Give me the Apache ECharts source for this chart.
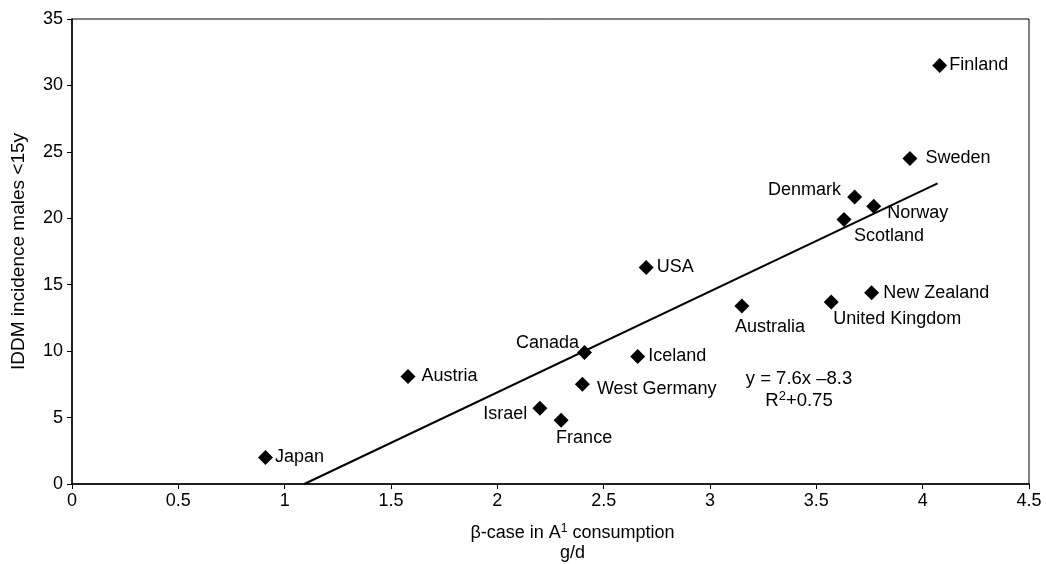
<!DOCTYPE html>
<html>
<head>
<meta charset="utf-8">
<title>IDDM incidence vs beta-casein A1 consumption</title>
<script src="https://cdn.jsdelivr.net/npm/echarts@6/dist/echarts.min.js"></script>
<style>
  html, body { margin: 0; padding: 0; background: #fff; }
  #chart { width: 1046px; height: 564px; }
</style>
</head>
<body>
<div id="chart"></div>
<script>
// countries
const countries = ['Japan', 'Austria', 'Canada', 'Israel', 'France', 'West Germany', 'Iceland', 'USA',
  'Australia', 'United Kingdom', 'New Zealand', 'Denmark', 'Norway', 'Scotland', 'Sweden', 'Finland']
const consumption = [0.91, 1.58, 2.41, 2.2, 2.3, 2.4, 2.66, 2.7, 3.15, 3.57, 3.76, 3.68, 3.77, 3.63, 3.94, 4.08]
const incidence = [2.0, 8.1, 9.9, 5.7, 4.8, 7.5, 9.6, 16.3, 13.4, 13.7, 14.4, 21.6, 20.9, 19.9, 24.5, 31.5]

// regression y = 7.6x - 8.3, drawn between these x values
const slope = 7.6
const intercept = -8.3
const fitRange = [-intercept / slope, 4.07]

const xTicks = [0, 0.5, 1, 1.5, 2, 2.5, 3, 3.5, 4, 4.5]
const yTicks = [0, 5, 10, 15, 20, 25, 30, 35]

// where each country's label sits next to its marker
const labelPlace = {
  'Japan': { position: 'right', distance: 2 },
  'Austria': { position: 'right', distance: 6 },
  'Canada': { position: 'left', distance: -2, offset: [0, -9] },
  'Israel': { position: 'left', distance: 5, offset: [0, 6] },
  'France': { position: 'bottom', distance: 1, offset: [23, 0] },
  'West Germany': { position: 'right', distance: 7, offset: [0, 5] },
  'Iceland': { position: 'right', distance: 3 },
  'USA': { position: 'right', distance: 3 },
  'Australia': { position: 'bottom', distance: 5, offset: [28, 0] },
  'United Kingdom': { position: 'bottom', distance: 1, offset: [66, 0] },
  'New Zealand': { position: 'right', distance: 4 },
  'Denmark': { position: 'left', distance: 6, offset: [0, -7] },
  'Norway': { position: 'right', distance: 6, offset: [0, 7] },
  'Scotland': { position: 'bottom', distance: 0, offset: [45, 0] },
  'Sweden': { position: 'right', distance: 8 },
  'Finland': { position: 'right', distance: 2 }
}

const font = 'Arial, "Liberation Sans", Helvetica, sans-serif'
const ink = '#000'

const chart = echarts.init(document.getElementById('chart'))

const points = countries.map((name, i) => ({
  name: name,
  value: [consumption[i], incidence[i]],
  label: Object.assign({ show: true, formatter: '{b}', color: ink, fontSize: 18, fontFamily: font }, labelPlace[name])
}))

const option = {
  animation: false,
  textStyle: { fontFamily: font },
  grid: {
    left: 72, right: 17, top: 19, bottom: 80,
    outerBoundsMode: 'none',
    containLabel: false,
    show: true, borderColor: '#000', borderWidth: 1, backgroundColor: 'transparent'
  },
  xAxis: {
    type: 'value',
    min: xTicks[0],
    max: xTicks[xTicks.length - 1],
    interval: 0.5,
    splitLine: { show: false },
    axisLine: { show: true, onZero: false, lineStyle: { color: '#000', width: 1.5 } },
    axisTick: { show: true, inside: false, length: 5, lineStyle: { color: '#000' } },
    axisLabel: { color: ink, fontSize: 18, margin: 8, fontFamily: font },
    name: 'β-case in A{sup|1} consumption\ng/d',
    nameLocation: 'middle',
    nameGap: 39,
    nameTextStyle: {
      color: ink, fontSize: 18, fontFamily: font, lineHeight: 20, padding: [0, 0, 0, 44],
      rich: { sup: { fontSize: 12, verticalAlign: 'top', padding: [0, 0, 6, 0], color: ink, fontFamily: font } }
    }
  },
  yAxis: {
    type: 'value',
    min: yTicks[0],
    max: yTicks[yTicks.length - 1],
    interval: 5,
    splitLine: { show: false },
    axisLine: { show: true, onZero: false, lineStyle: { color: '#000', width: 1.5 } },
    axisTick: { show: true, inside: false, length: 5, lineStyle: { color: '#000' } },
    axisLabel: { color: ink, fontSize: 18, margin: 9, fontFamily: font },
    name: 'IDDM incidence males <15y',
    nameLocation: 'middle',
    nameGap: 44,
    nameTextStyle: { color: ink, fontSize: 19, fontFamily: font }
  },
  series: [
    {
      type: 'line',
      data: fitRange.map(x => [x, slope * x + intercept]),
      showSymbol: false,
      silent: true,
      lineStyle: { color: '#000', width: 2 },
      z: 1
    },
    {
      type: 'scatter',
      symbol: 'diamond',
      symbolSize: 15,
      itemStyle: { color: '#000', opacity: 1 },
      data: points,
      z: 2
    }
  ],
  graphic: [
    {
      type: 'text',
      x: 799,
      y: 368,
      style: {
        text: 'y = 7.6x –8.3\nR{sup|2}+0.75',
        fill: ink,
        font: '18.5px ' + font,
        align: 'center',
        verticalAlign: 'top',
        lineHeight: 22,
        rich: { sup: { fontSize: 13, verticalAlign: 'top', padding: [0, 0, 7, 0], fill: ink } }
      }
    }
  ]
}

chart.setOption(option)
</script>
</body>
</html>
